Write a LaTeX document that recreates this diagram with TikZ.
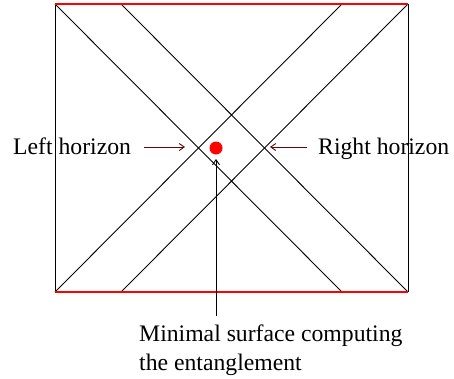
\documentclass[tikz,border=0pt]{standalone}
\usepackage{fontspec}
\setmainfont{Liberation Serif}
\usetikzlibrary{arrows.meta}
\definecolor{arrowred}{RGB}{90,10,10}
\tikzset{
  thin line/.style={line width=0.9pt, black},
  redline/.style={line width=2.8pt, red},
  label text/.style={anchor=base west, inner sep=0pt, font=\fontsize{23.7}{30}\selectfont},
  pointer/.style={line width=0.9pt, -{Straight Barb[length=5pt,width=7pt]}},
}
\begin{document}
\begin{tikzpicture}[x=1pt,y=-1pt]
\useasboundingbox (0,0) rectangle (454,378);
% corners and diagonal endpoints
\coordinate (tl) at (55,4);
\coordinate (tr) at (408,4);
\coordinate (bl) at (55,292);
\coordinate (br) at (408,292);
\coordinate (t1) at (121,4);
\coordinate (t2) at (342,4);
\coordinate (b1) at (121,292);
\coordinate (b2) at (342,292);
% frame
\draw[thin line] (tl) -- (bl);
\draw[thin line] (tr) -- (br);
% diagonals
\draw[thin line] (tl) -- (b2);
\draw[thin line] (t1) -- (br);
\draw[thin line] (t2) -- (bl);
\draw[thin line] (tr) -- (b1);
% red boundaries
\draw[redline] (tl) -- (tr);
\draw[redline] (bl) -- (br);
% red dot
\node[circle, fill=red, minimum size=13pt, inner sep=0pt] (dot) at (216,148) {};
% labels
\node[label text] (lh) at (13,154) {Left horizon};
\node[label text] (rh) at (318,154) {Right horizon};
\node[label text] (ms1) at (139,341) {Minimal surface computing};
\node[label text] (ms2) at (139,370) {the entanglement};
% arrows
\coordinate (la1) at (144,147);
\coordinate (la2) at (185,147);
\coordinate (ra1) at (307,147);
\coordinate (ra2) at (270,147);
\coordinate (va1) at (216,316);
\coordinate (va2) at (216,159);
\draw[pointer, arrowred] (la1) -- (la2);
\draw[pointer, arrowred] (ra1) -- (ra2);
\draw[pointer, black] (va1) -- (va2);
\end{tikzpicture}
\end{document}
